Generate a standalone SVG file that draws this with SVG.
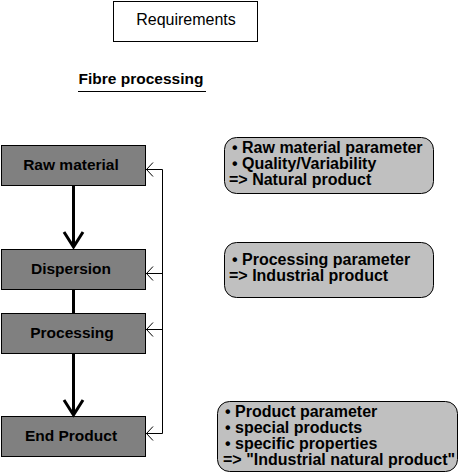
<svg xmlns="http://www.w3.org/2000/svg" width="466" height="474" viewBox="0 0 466 474">
<style>
text{font-family:"Liberation Sans",Arial,sans-serif;fill:#000}
.b{font-weight:bold;font-size:15.5px}
.r{font-weight:bold;font-size:16px}
.n{font-size:16px}
.mid{text-anchor:middle}
.step{fill:#808080;stroke:#000;stroke-width:1}
.note{fill:#c0c0c0;stroke:#000;stroke-width:1}
.thick{stroke:#000;stroke-width:3;fill:none}
.thin{stroke:#000;stroke-width:1;fill:none}
</style>
<rect width="466" height="474" fill="#fff"/>
<g id="requirements">
<rect x="113.5" y="1.5" width="144" height="40" fill="#fff" stroke="#000"/>
<text class="n mid" x="186" y="24.5">Requirements</text>
</g>
<g id="title">
<text class="b" x="78.5" y="83.5">Fibre processing</text>
<line x1="78" y1="91.5" x2="206" y2="91.5" stroke="#000" stroke-width="1"/>
</g>
<g id="raw-material">
<rect class="step" x="1.5" y="145.5" width="144" height="40"/>
<text class="b mid" x="71" y="170">Raw material</text>
</g>
<g id="dispersion">
<rect class="step" x="1.5" y="249.5" width="144" height="40"/>
<text class="b mid" x="71" y="274">Dispersion</text>
</g>
<g id="processing">
<rect class="step" x="1.5" y="313.5" width="144" height="40"/>
<text class="b mid" x="72" y="338">Processing</text>
</g>
<g id="end-product">
<rect class="step" x="1.5" y="416.5" width="144" height="40"/>
<text class="b mid" x="71" y="441">End Product</text>
</g>
<g id="note-raw">
<rect class="note" x="224.5" y="137.5" width="209" height="56" rx="12" ry="12"/>
<text class="r" x="232" y="153">• Raw material parameter</text>
<text class="r" x="232" y="169">• Quality/Variability</text>
<text class="r" x="229" y="185">=&gt; Natural product</text>
</g>
<g id="note-processing">
<rect class="note" x="224.5" y="242.5" width="209" height="55" rx="12" ry="12"/>
<text class="r" x="232" y="265">• Processing parameter</text>
<text class="r" x="229" y="281">=&gt; Industrial product</text>
</g>
<g id="note-product">
<rect class="note" x="217.5" y="401.5" width="240" height="70" rx="12" ry="12"/>
<text class="r" x="225" y="417">• Product parameter</text>
<text class="r" x="225" y="433">• special products</text>
<text class="r" x="225" y="449">• specific properties</text>
<text class="r" x="223" y="465">=&gt; "Industrial natural product"</text>
</g>
<g id="connectors">
<line class="thick" x1="73.5" y1="186" x2="73.5" y2="247"/>
<polyline class="thick" points="64,232 73.5,247 83,232"/>
<line class="thick" x1="73.5" y1="290" x2="73.5" y2="313"/>
<line class="thick" x1="73.5" y1="354" x2="73.5" y2="415"/>
<polyline class="thick" points="64,400 73.5,415 83,400"/>
<polyline class="thin" points="146,169.5 162.5,169.5 162.5,433.5 146,433.5"/>
<line class="thin" x1="146" y1="273.5" x2="162.5" y2="273.5"/>
<line class="thin" x1="146" y1="329.5" x2="162.5" y2="329.5"/>
<polyline class="thin" points="153,162.5 146.5,169.5 153,176.5"/>
<polyline class="thin" points="153,266.5 146.5,273.5 153,280.5"/>
<polyline class="thin" points="153,322.5 146.5,329.5 153,336.5"/>
<polyline class="thin" points="153,426.5 146.5,433.5 153,440.5"/>
</g>
</svg>
